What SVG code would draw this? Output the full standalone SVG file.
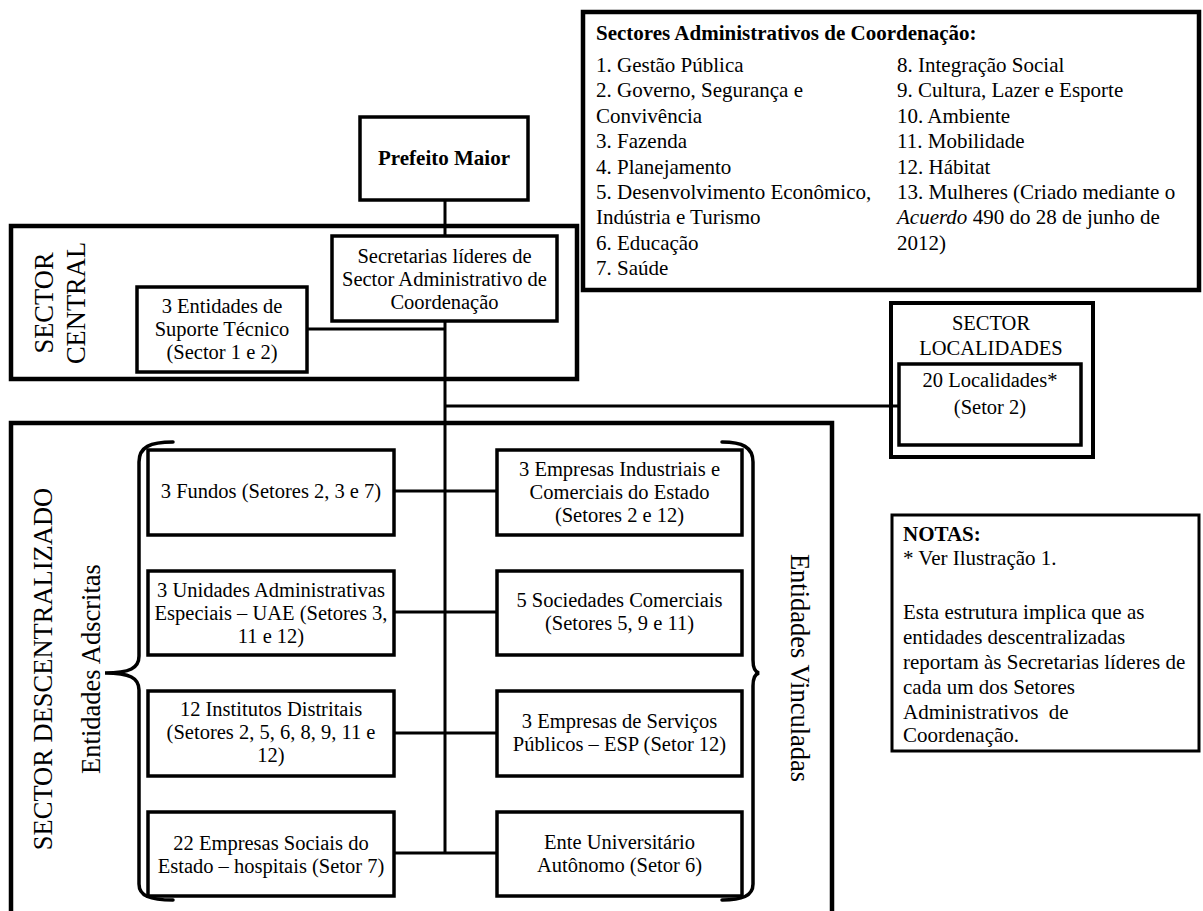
<svg xmlns="http://www.w3.org/2000/svg" width="1203" height="911" viewBox="0 0 1203 911">
  <style>
    text { font-family: "Liberation Serif", "Times New Roman", serif; font-size: 21px; fill: #000; }
    .c { text-anchor: middle; }
    .b { font-weight: bold; }
    .n { font-size: 20.5px; }
    .big { font-size: 26.5px; }
    .box { fill: #fff; stroke: #000; stroke-width: 3.5; }
    .frame { fill: none; stroke: #000; stroke-width: 4.5; }
    .link { fill: none; stroke: #000; stroke-width: 3; }
    .brace { fill: none; stroke: #000; stroke-width: 3.5; stroke-linecap: round; }
  </style>
  <rect width="1203" height="911" fill="#fff"/>

  <!-- sector frames -->
  <g id="sector-central">
    <rect class="frame" x="11" y="226" width="566" height="153"/>
    <text class="big c" transform="translate(53,303) rotate(-90)"><tspan x="0" y="0">SECTOR</tspan><tspan x="0" y="32">CENTRAL</tspan></text>
  </g>
  <g id="sector-descentralizado">
    <path class="frame" d="M11,918 V423 H832 V918"/>
    <text class="big c" transform="translate(52,669) rotate(-90)">SECTOR DESCENTRALIZADO</text>
    <text class="big c" transform="translate(100,669) rotate(-90)">Entidades Adscritas</text>
    <text class="big c" transform="translate(791,668) rotate(90)">Entidades Vinculadas</text>
    <path class="brace" d="M173,442 C150,442 139,447 139,462 L139,656 C139,668 130,673 105,673 C130,673 139,678 139,690 L139,884 C139,896 150,900 173,900"/>
    <path class="brace" d="M722,442 C742,442 753,447 753,462 L753,660 C753,668 755,672 759,673 C755,674 753,678 753,686 L753,884 C753,896 742,900 722,900"/>
  </g>

  <!-- connectors -->
  <g id="connectors">
    <line class="link" x1="445" y1="200" x2="445" y2="853"/>
    <line class="link" x1="307" y1="329" x2="445" y2="329"/>
    <line class="link" x1="445" y1="406" x2="899" y2="406"/>
    <line class="link" x1="394" y1="491" x2="497" y2="491"/>
    <line class="link" x1="394" y1="612" x2="497" y2="612"/>
    <line class="link" x1="394" y1="733" x2="497" y2="733"/>
    <line class="link" x1="394" y1="853" x2="497" y2="853"/>
  </g>

  <!-- top of the hierarchy -->
  <g id="prefeito">
    <rect class="box" x="360" y="117" width="168" height="83"/>
    <text class="c b" x="444" y="165">Prefeito Maior</text>
  </g>
  <g id="secretarias">
    <rect class="box" x="332" y="236" width="225" height="85"/>
    <text class="c n" x="444.5" y="263">Secretarias líderes de</text>
    <text class="c n" x="444.5" y="286">Sector Administrativo de</text>
    <text class="c n" x="444.5" y="309">Coordenação</text>
  </g>
  <g id="entidades-suporte">
    <rect class="box" x="137" y="287" width="170" height="85"/>
    <text class="c n" x="222" y="313">3 Entidades de</text>
    <text class="c n" x="222" y="336">Suporte Técnico</text>
    <text class="c n" x="222" y="359">(Sector 1 e 2)</text>
  </g>

  <!-- localities -->
  <g id="sector-localidades">
    <rect class="frame" style="stroke-width:4" x="891" y="303" width="202" height="154"/>
    <text class="c n" x="991" y="330">SECTOR</text>
    <text class="c n" x="991" y="355">LOCALIDADES</text>
    <rect class="box" x="899" y="364" width="182" height="81"/>
    <text class="c n" x="990" y="387">20 Localidades*</text>
    <text class="c n" x="990" y="414">(Setor 2)</text>
  </g>

  <!-- attached entities (left column) -->
  <g id="fundos">
    <rect class="box" x="148" y="450" width="246" height="85"/>
    <text class="c n" x="271" y="498">3 Fundos (Setores 2, 3 e 7)</text>
  </g>
  <g id="uae">
    <rect class="box" x="148" y="571" width="246" height="84"/>
    <text class="c n" x="271" y="597">3 Unidades Administrativas</text>
    <text class="c n" x="271" y="620">Especiais – UAE (Setores 3,</text>
    <text class="c n" x="271" y="643">11 e 12)</text>
  </g>
  <g id="institutos">
    <rect class="box" x="148" y="691" width="246" height="85"/>
    <text class="c n" x="271" y="716">12 Institutos Distritais</text>
    <text class="c n" x="271" y="739">(Setores 2, 5, 6, 8, 9, 11 e</text>
    <text class="c n" x="271" y="762">12)</text>
  </g>
  <g id="empresas-sociais">
    <rect class="box" x="148" y="812" width="246" height="84"/>
    <text class="c n" x="271" y="850">22 Empresas Sociais do</text>
    <text class="c n" x="271" y="873">Estado – hospitais (Setor 7)</text>
  </g>

  <!-- linked entities (right column) -->
  <g id="empresas-industriais">
    <rect class="box" x="497" y="450" width="245" height="85"/>
    <text class="c n" x="619.5" y="476">3 Empresas Industriais e</text>
    <text class="c n" x="619.5" y="499">Comerciais do Estado</text>
    <text class="c n" x="619.5" y="522">(Setores 2 e 12)</text>
  </g>
  <g id="sociedades">
    <rect class="box" x="497" y="571" width="245" height="84"/>
    <text class="c n" x="619.5" y="607">5 Sociedades Comerciais</text>
    <text class="c n" x="619.5" y="630">(Setores 5, 9 e 11)</text>
  </g>
  <g id="esp">
    <rect class="box" x="497" y="691" width="245" height="85"/>
    <text class="c n" x="619.5" y="728">3 Empresas de Serviços</text>
    <text class="c n" x="619.5" y="751">Públicos – ESP (Setor 12)</text>
  </g>
  <g id="universitario">
    <rect class="box" x="497" y="812" width="245" height="84"/>
    <text class="c n" x="619.5" y="849">Ente Universitário</text>
    <text class="c n" x="619.5" y="872">Autônomo (Setor 6)</text>
  </g>

  <!-- coordination sectors legend -->
  <g id="legenda-setores">
    <rect class="frame" x="583" y="12" width="616" height="278"/>
    <text class="b" x="596" y="40">Sectores Administrativos de Coordenação:</text>
    <text x="596" y="72">1. Gestão Pública</text>
    <text x="596" y="97">2. Governo, Segurança e</text>
    <text x="596" y="123">Convivência</text>
    <text x="596" y="148">3. Fazenda</text>
    <text x="596" y="174">4. Planejamento</text>
    <text x="596" y="199">5. Desenvolvimento Econômico,</text>
    <text x="596" y="224">Indústria e Turismo</text>
    <text x="596" y="250">6. Educação</text>
    <text x="596" y="275">7. Saúde</text>
    <text x="897" y="72">8. Integração Social</text>
    <text x="897" y="97">9. Cultura, Lazer e Esporte</text>
    <text x="897" y="123">10. Ambiente</text>
    <text x="897" y="148">11. Mobilidade</text>
    <text x="897" y="174">12. Hábitat</text>
    <text x="897" y="199">13. Mulheres (Criado mediante o</text>
    <text x="897" y="224"><tspan font-style="italic">Acuerdo</tspan> 490 do 28 de junho de</text>
    <text x="897" y="250">2012)</text>
  </g>

  <!-- notes -->
  <g id="notas">
    <rect class="box" style="stroke-width:3" x="892" y="515" width="307" height="236"/>
    <text class="b" x="903" y="541">NOTAS:</text>
    <text x="903" y="565">* Ver Ilustração 1.</text>
    <text x="903" y="619">Esta estrutura implica que as</text>
    <text x="903" y="644">entidades descentralizadas</text>
    <text x="903" y="669">reportam às Secretarias líderes de</text>
    <text x="903" y="694">cada um dos Setores</text>
    <text x="903" y="719" xml:space="preserve">Administrativos  de</text>
    <text x="903" y="742">Coordenação.</text>
  </g>
</svg>
